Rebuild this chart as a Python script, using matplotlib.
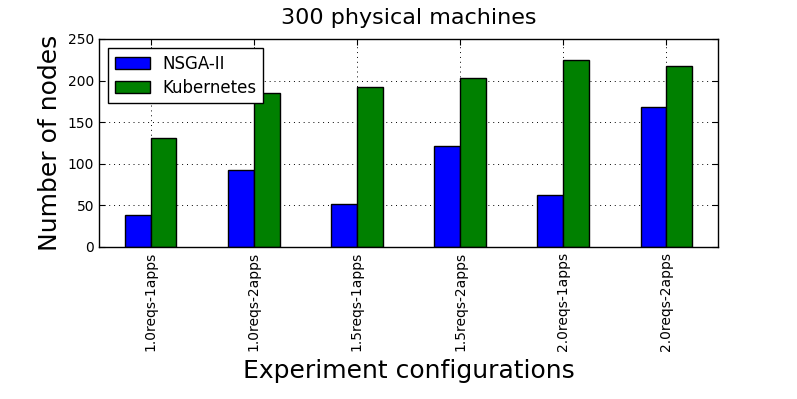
import matplotlib
matplotlib.use("Agg")
import matplotlib.pyplot as plt
import numpy as np

categories = ["1.0reqs-1apps", "1.0reqs-2apps", "1.5reqs-1apps",
              "1.5reqs-2apps", "2.0reqs-1apps", "2.0reqs-2apps"]
nsga = [38, 92, 52, 121, 63, 168]
kube = [131, 185, 192, 203, 225, 217]
series_names = ["NSGA-II", "Kubernetes"]

fig = plt.figure(figsize=(7.97, 3.99), dpi=100)
ax = fig.add_axes([99/797, 1-247/399, 619/797, 208/399])

x = np.arange(len(categories))
w = 0.25
ax.bar(x - w/2, nsga, w, color="#0000ff", edgecolor="black", linewidth=1, label=series_names[0], zorder=2)
ax.bar(x + w/2, kube, w, color="#008000", edgecolor="black", linewidth=1, label=series_names[1], zorder=2)

ax.set_xlim(-0.5, len(categories) - 0.5)
ax.set_ylim(0, 250)
ax.set_yticks([0, 50, 100, 150, 200, 250])
ax.set_xticks(x)
ax.set_xticklabels(categories, rotation=90, fontsize=10)
ax.tick_params(axis="y", labelsize=10)
ax.tick_params(direction="in", top=True, right=True, length=4, width=0.8)
ax.grid(True, linestyle=(0, (1, 4)), color="black", linewidth=0.7, zorder=0)
ax.set_axisbelow(True)
for s in ax.spines.values():
    s.set_linewidth(1)

ax.set_title("300 physical machines", fontsize=16, pad=11)
ax.set_xlabel("Experiment configurations", fontsize=18, labelpad=6)
ax.set_ylabel("Number of nodes", fontsize=18)

leg = ax.legend(loc="upper left", fontsize=12, fancybox=False, edgecolor="black",
                framealpha=1, borderaxespad=0.55, handlelength=2.1,
                labelspacing=0.35, handletextpad=0.75)
leg.get_frame().set_linewidth(1)

fig.savefig("out.png", dpi=100, facecolor="white")
